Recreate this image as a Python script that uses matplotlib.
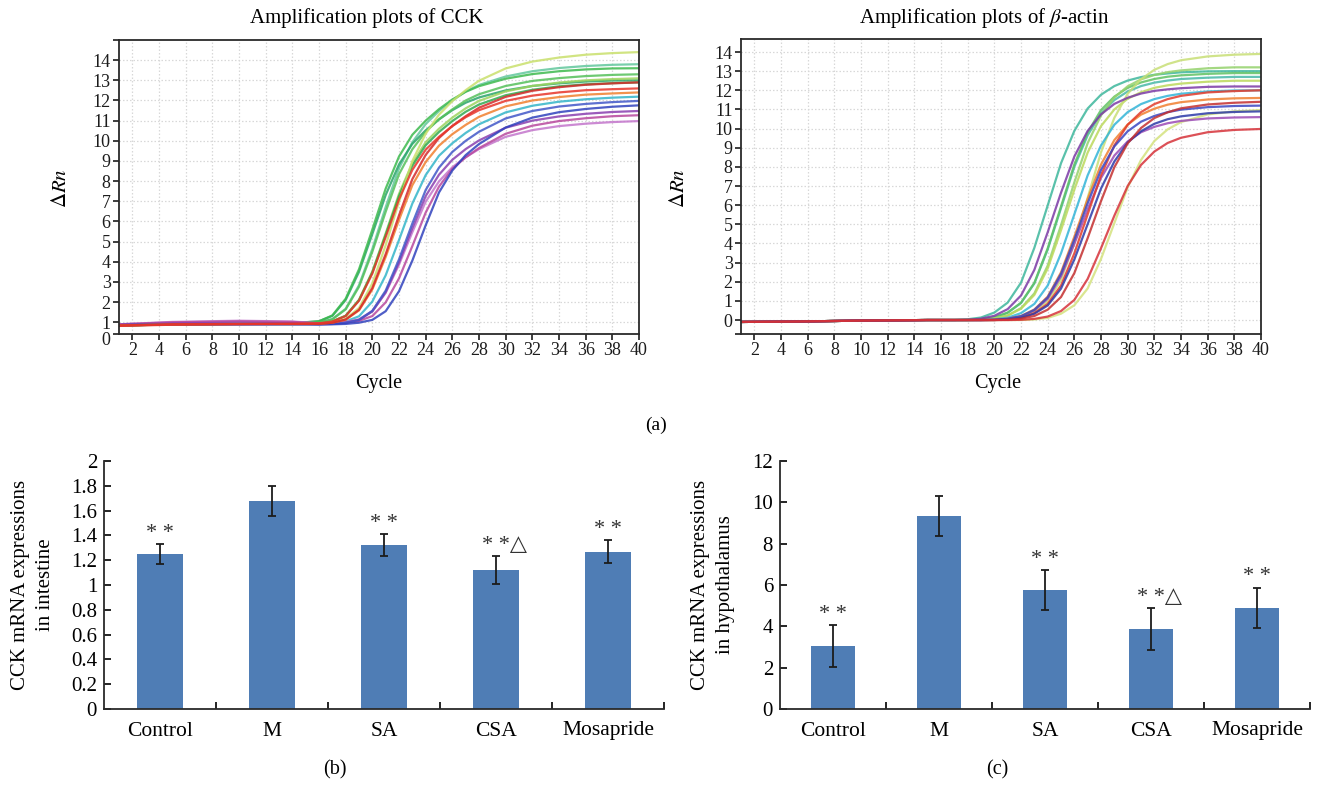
import matplotlib
matplotlib.use("Agg")
import matplotlib.pyplot as plt

plt.rcParams.update({
    "font.family": ["Liberation Serif", "DejaVu Sans"],
    "mathtext.fontset": "stix",
    "axes.linewidth": 1.3,
})

W, H = 1319, 786

# ---- amplification curves (delta Rn per cycle) ----
CCK_CYCLES = [1, 5, 10, 14, 16, 17, 18, 19, 20, 21, 22, 23, 24, 25, 26, 27, 28, 30, 32, 34, 36, 38, 40]
cck_01 = [0.86, 0.90, 0.92, 0.93, 0.93, 0.99, 1.17, 1.71, 2.93, 4.82, 6.98, 9.00, 10.35, 11.30, 11.97, 12.51, 12.98, 13.59, 13.93, 14.13, 14.27, 14.35, 14.40]
cck_02 = [0.84, 0.90, 0.93, 0.95, 1.05, 1.34, 2.17, 3.63, 5.60, 7.63, 9.22, 10.30, 11.00, 11.57, 12.05, 12.43, 12.71, 13.08, 13.31, 13.45, 13.54, 13.59, 13.60]
cck_03 = [0.85, 0.91, 0.93, 0.95, 0.99, 1.15, 1.64, 2.76, 4.50, 6.48, 8.34, 9.58, 10.45, 11.07, 11.56, 12.00, 12.31, 12.72, 12.97, 13.11, 13.21, 13.27, 13.30]
cck_04 = [0.87, 0.90, 0.94, 0.96, 0.99, 1.16, 1.67, 2.84, 4.64, 6.71, 8.64, 9.93, 10.83, 11.48, 11.99, 12.45, 12.77, 13.19, 13.45, 13.61, 13.71, 13.77, 13.80]
cck_05 = [0.84, 0.89, 0.92, 0.94, 0.95, 1.04, 1.32, 2.10, 3.48, 5.34, 7.26, 8.76, 9.78, 10.44, 10.98, 11.44, 11.80, 12.26, 12.53, 12.70, 12.80, 12.86, 12.90]
cck_06 = [0.82, 0.88, 0.91, 0.93, 0.95, 1.04, 1.31, 2.07, 3.42, 5.23, 7.10, 8.56, 9.56, 10.20, 10.73, 11.17, 11.52, 11.98, 12.24, 12.40, 12.51, 12.56, 12.60]
cck_07 = [0.85, 0.90, 0.92, 0.91, 0.92, 0.98, 1.13, 1.59, 2.63, 4.24, 6.08, 7.80, 8.95, 9.76, 10.33, 10.79, 11.19, 11.71, 12.00, 12.17, 12.29, 12.35, 12.40]
cck_08 = [0.84, 0.90, 0.91, 0.92, 0.92, 0.98, 1.14, 1.62, 2.70, 4.38, 6.30, 8.10, 9.30, 10.14, 10.74, 11.22, 11.64, 12.18, 12.48, 12.66, 12.78, 12.85, 12.90]
cck_09 = [0.85, 0.90, 0.91, 0.91, 0.91, 0.95, 1.04, 1.30, 2.03, 3.33, 5.08, 6.89, 8.30, 9.26, 9.88, 10.39, 10.82, 11.41, 11.74, 11.94, 12.06, 12.14, 12.19]
cck_10 = [0.86, 0.90, 0.90, 0.90, 0.90, 0.92, 0.98, 1.12, 1.57, 2.57, 4.12, 5.90, 7.56, 8.67, 9.45, 10.00, 10.45, 11.11, 11.48, 11.70, 11.83, 11.92, 11.98]
cck_11 = [0.88, 0.95, 0.98, 0.95, 0.90, 0.92, 0.97, 1.11, 1.54, 2.49, 3.97, 5.67, 7.26, 8.32, 9.06, 9.59, 10.02, 10.65, 11.00, 11.21, 11.34, 11.43, 11.48]
cck_12 = [0.90, 1.00, 1.05, 1.02, 0.95, 0.96, 0.99, 1.07, 1.31, 1.99, 3.18, 4.78, 6.44, 7.73, 8.61, 9.18, 9.64, 10.35, 10.75, 10.98, 11.12, 11.22, 11.27]
cck_13 = [0.86, 0.90, 0.90, 0.90, 0.90, 0.90, 0.92, 0.98, 1.12, 1.55, 2.54, 4.06, 5.81, 7.44, 8.53, 9.29, 9.84, 10.66, 11.15, 11.42, 11.58, 11.69, 11.76]
cck_14 = [0.90, 1.02, 1.08, 1.04, 0.95, 0.97, 1.02, 1.15, 1.55, 2.46, 3.86, 5.47, 6.98, 7.99, 8.69, 9.19, 9.59, 10.20, 10.53, 10.73, 10.85, 10.93, 10.98]
cck_15 = [0.85, 0.90, 0.93, 0.95, 0.95, 1.05, 1.33, 2.12, 3.52, 5.41, 7.37, 8.89, 9.93, 10.60, 11.15, 11.61, 11.98, 12.45, 12.72, 12.89, 13.00, 13.06, 13.10]
cck_16 = [0.84, 0.90, 0.93, 0.96, 1.05, 1.32, 2.11, 3.50, 5.38, 7.31, 8.83, 9.85, 10.52, 11.06, 11.52, 11.89, 12.15, 12.50, 12.72, 12.85, 12.94, 12.99, 13.00]
CCK_CURVES = [cck_04, cck_16, cck_02, cck_03, cck_15, cck_05, cck_01, cck_09, cck_14,
              cck_12, cck_11, cck_10, cck_13, cck_07, cck_08, cck_06]
CCK_COLORS = ["#62c79c", "#2aa56a", "#3dba4e", "#55c05b", "#9dd45e", "#30a950", "#c9e06c", "#34b5c9", "#c376cc",
              "#b8489e", "#8a3fb0", "#4257c8", "#3042bd", "#f0802f", "#d42a2a", "#e8352a"]

ACT_CYCLES = [1, 5, 10, 15, 17, 18, 19, 20, 21, 22, 23, 24, 25, 26, 27, 28, 29, 30, 31, 32, 33, 34, 36, 38, 40]
act_01 = [-0.10, -0.08, -0.03, 0.00, 0.00, 0.04, 0.13, 0.39, 0.91, 1.95, 3.77, 5.98, 8.19, 9.88, 11.05, 11.77, 12.22, 12.51, 12.69, 12.81, 12.88, 12.94, 12.99, 13.00, 13.00]
act_02 = [-0.10, -0.08, -0.03, 0.00, 0.00, 0.01, 0.07, 0.22, 0.57, 1.28, 2.62, 4.58, 6.65, 8.54, 9.88, 10.74, 11.29, 11.61, 11.83, 11.97, 12.05, 12.11, 12.18, 12.20, 12.20]
act_03 = [-0.10, -0.08, -0.03, 0.00, 0.00, 0.00, 0.04, 0.13, 0.39, 0.90, 1.94, 3.74, 5.93, 8.13, 9.80, 10.97, 11.67, 12.13, 12.41, 12.59, 12.71, 12.78, 12.86, 12.90, 12.90]
act_04 = [-0.10, -0.08, -0.03, 0.00, 0.00, 0.00, 0.01, 0.08, 0.23, 0.59, 1.31, 2.69, 4.69, 6.81, 8.75, 10.13, 11.00, 11.56, 11.90, 12.13, 12.26, 12.35, 12.45, 12.50, 12.50]
act_05 = [-0.10, -0.08, -0.03, 0.00, 0.00, 0.00, 0.00, 0.04, 0.12, 0.36, 0.84, 1.80, 3.48, 5.52, 7.56, 9.12, 10.20, 10.86, 11.28, 11.54, 11.71, 11.82, 11.94, 11.99, 12.00]
act_06 = [-0.10, -0.08, -0.03, 0.00, 0.00, 0.00, 0.01, 0.08, 0.24, 0.62, 1.39, 2.84, 4.95, 7.19, 9.24, 10.69, 11.62, 12.21, 12.57, 12.80, 12.95, 13.04, 13.15, 13.20, 13.20]
act_07 = [-0.10, -0.08, -0.03, 0.00, 0.00, 0.00, 0.04, 0.13, 0.38, 0.89, 1.91, 3.68, 5.84, 8.00, 9.65, 10.80, 11.49, 11.94, 12.22, 12.40, 12.51, 12.59, 12.66, 12.70, 12.70]
act_08 = [-0.10, -0.08, -0.03, 0.00, 0.00, 0.00, 0.00, 0.01, 0.07, 0.20, 0.53, 1.18, 2.41, 4.20, 6.10, 7.84, 9.07, 9.86, 10.36, 10.66, 10.86, 10.99, 11.12, 11.18, 11.20]
act_09 = [-0.10, -0.08, -0.03, 0.00, 0.00, 0.00, 0.00, 0.00, 0.03, 0.11, 0.33, 0.76, 1.64, 3.16, 5.01, 6.87, 8.28, 9.27, 9.86, 10.25, 10.49, 10.64, 10.80, 10.87, 10.90]
act_10 = [-0.10, -0.08, -0.03, 0.00, 0.00, 0.00, 0.00, 0.00, 0.04, 0.12, 0.36, 0.84, 1.80, 3.48, 5.52, 7.56, 9.12, 10.20, 10.86, 11.28, 11.54, 11.71, 11.89, 11.96, 12.00]
act_11 = [-0.10, -0.08, -0.03, 0.00, 0.00, 0.00, 0.00, 0.01, 0.07, 0.21, 0.55, 1.22, 2.49, 4.35, 6.32, 8.12, 9.40, 10.21, 10.73, 11.04, 11.25, 11.38, 11.52, 11.58, 11.60]
act_12 = [-0.10, -0.08, -0.03, 0.00, 0.00, 0.00, 0.00, 0.00, 0.01, 0.07, 0.21, 0.54, 1.20, 2.45, 4.28, 6.21, 7.98, 9.23, 10.03, 10.55, 10.85, 11.06, 11.26, 11.35, 11.40]
act_13 = [-0.10, -0.08, -0.03, 0.00, 0.00, 0.00, 0.00, 0.00, 0.00, 0.01, 0.06, 0.18, 0.47, 1.05, 2.15, 3.75, 5.45, 7.00, 8.10, 8.80, 9.25, 9.52, 9.81, 9.93, 9.98]
act_14 = [-0.10, -0.08, -0.03, 0.00, 0.00, 0.00, 0.00, 0.00, 0.00, 0.00, 0.03, 0.11, 0.33, 0.77, 1.65, 3.19, 5.06, 6.93, 8.36, 9.35, 9.96, 10.34, 10.74, 10.90, 10.97]
act_15 = [-0.10, -0.08, -0.03, 0.00, 0.00, 0.00, 0.00, 0.00, 0.04, 0.14, 0.42, 0.97, 2.09, 4.03, 6.39, 8.76, 10.56, 11.82, 12.58, 13.07, 13.37, 13.57, 13.77, 13.86, 13.90]
act_16 = [-0.10, -0.08, -0.03, 0.00, 0.00, 0.00, 0.00, 0.01, 0.06, 0.19, 0.50, 1.11, 2.28, 3.98, 5.78, 7.42, 8.59, 9.33, 9.81, 10.09, 10.28, 10.40, 10.53, 10.58, 10.60]
ACT_CURVES = [act_01, act_07, act_03, act_06, act_04, act_15, act_14, act_05, act_02,
              act_16, act_11, act_10, act_08, act_09, act_12, act_13]
ACT_COLORS = ["#3db79c", "#48b9a8", "#5fc163", "#94d26c", "#bcd95c", "#c8df76", "#d4e27e", "#33b4d8", "#7b3aa6",
              "#9b4ab5", "#f07f2f", "#e23b2b", "#3b47c2", "#2d3aa8", "#c42f2f", "#d6323a"]

# ---- relative CCK mRNA expression (mean +/- sd) ----
GROUPS = ["Control", "M", "SA", "CSA", "Mosapride"]
intestine_mean = [1.25, 1.68, 1.32, 1.12, 1.27]
intestine_err = [0.08, 0.12, 0.09, 0.11, 0.09]
hypothal_mean = [3.05, 9.34, 5.76, 3.87, 4.89]
hypothal_err = [1.00, 0.98, 0.97, 1.02, 0.98]
MARKS = ["* *", "", "* *", "* *\u25b3", "* *"]
INT_TICKS = [0, 0.2, 0.4, 0.6, 0.8, 1, 1.2, 1.4, 1.6, 1.8, 2]
INT_TICKLABELS = ["0", "0.2", "0.4", "0.6", "0.8", "1", "1.2", "1.4", "1.6", "1.8", "2"]
HYP_TICKS = [0, 2, 4, 6, 8, 10, 12]

BAR = "#4f7db5"
INK = "#1c1c1c"


def rect(x0, y0, x1, y1):
    return [x0 / W, 1 - y1 / H, (x1 - x0) / W, (y1 - y0) / H]


def amp_panel(ax, cycles, curves, colors, ylim, bottom_label):
    for ys, c in zip(curves, colors):
        ax.plot(cycles, ys, color=c, lw=1.6, alpha=0.85, solid_capstyle="round")
    ax.set_xlim(1, 40)
    ax.set_ylim(*ylim)
    ax.set_xticks(range(2, 41, 2))
    ax.set_yticks(range(1 if bottom_label else 0, 15))
    # extra ticks at the frame edges, as the instrument software draws them
    ax.set_yticks([ylim[0], ylim[1]] if bottom_label else [ylim[0]], minor=True)
    ax.set_yticklabels([], minor=True)
    if bottom_label:
        # the CCK plot labels its bottom edge "0", just under the "1" row
        ax.annotate("0", (0, ylim[0]), xycoords=ax.get_yaxis_transform(),
                    xytext=(-6, -5), textcoords="offset points",
                    ha="right", va="center", fontsize=13, color=INK)
    ax.grid(True, which="major", color="#d8d8d8", ls=(0, (1.2, 1.6)), lw=0.9)
    ax.tick_params(which="both", direction="out", length=4, width=1.2, colors=INK,
                   labelsize=13, pad=2)
    for s in ax.spines.values():
        s.set_color("#2a2a2a")
        s.set_linewidth(1.3)


def bar_panel(ax, means, errs, ticks, ticklabels):
    x = range(len(GROUPS))
    ax.bar(x, means, width=0.41, color=BAR, zorder=2)
    ax.errorbar(x, means, yerr=errs, fmt="none", ecolor=INK, elinewidth=1.3,
                capsize=3, capthick=1.3, zorder=3)
    for i, (m, e, mk) in enumerate(zip(means, errs, MARKS)):
        if mk:
            ax.annotate(mk, (i, m + e), xytext=(6 if len(mk) > 3 else 0, 1),
                        textcoords="offset points", ha="center", va="bottom",
                        fontsize=16, color="#333333")
    ax.set_xlim(-0.5, len(GROUPS) - 0.5)
    ax.set_ylim(ticks[0], ticks[-1])
    ax.set_yticks(ticks)
    ax.set_yticklabels(ticklabels)
    ax.set_xticks([i + 0.5 for i in x])
    ax.set_xticklabels([])
    ax.set_xticks(list(x), minor=True)
    ax.set_xticklabels(GROUPS, minor=True)
    ax.tick_params(axis="x", which="minor", length=0, pad=9, labelsize=15.5)
    ax.tick_params(axis="x", which="major", direction="in", length=5, width=1.2)
    ax.tick_params(axis="y", direction="in", length=5, width=1.2, labelsize=15, pad=5)
    for side in ("top", "right"):
        ax.spines[side].set_visible(False)
    for side in ("left", "bottom"):
        ax.spines[side].set_color("#2a2a2a")
        ax.spines[side].set_linewidth(1.3)


fig = plt.figure(figsize=(W / 100, H / 100), dpi=100)

ax1 = fig.add_axes(rect(119, 40, 639, 334))
amp_panel(ax1, CCK_CYCLES, CCK_CURVES, CCK_COLORS, (0.42, 15.0), True)
ax2 = fig.add_axes(rect(741, 39, 1261, 334))
amp_panel(ax2, ACT_CYCLES, ACT_CURVES, ACT_COLORS, (-0.73, 14.68), False)

fig.text(367 / W, 1 - 18 / H, "Amplification plots of CCK", ha="center", va="center", fontsize=15)
fig.text(984 / W, 1 - 18 / H, r"Amplification plots of $\beta$-actin", ha="center", va="center", fontsize=15)
for xc in (62, 680):
    fig.text(xc / W, 1 - 188 / H, r"$\Delta Rn$", rotation=90, ha="center", va="center", fontsize=15)
for xc in (379, 998):
    fig.text(xc / W, 1 - 384 / H, "Cycle", ha="center", va="center", fontsize=14.5)
fig.text(656 / W, 1 - 425 / H, "(a)", ha="center", va="center", fontsize=14)

ax3 = fig.add_axes(rect(104, 461, 664, 709))
bar_panel(ax3, intestine_mean, intestine_err, INT_TICKS, INT_TICKLABELS)
ax4 = fig.add_axes(rect(780, 461, 1310, 709))
bar_panel(ax4, hypothal_mean, hypothal_err, HYP_TICKS, [str(t) for t in HYP_TICKS])

fig.text(33 / W, 1 - 585 / H, "CCK mRNA expressions\nin intestine", rotation=90,
         ha="center", va="center", fontsize=15, linespacing=1.45, multialignment="center")
fig.text(713 / W, 1 - 585 / H, "CCK mRNA expressions\nin hypothalamus", rotation=90,
         ha="center", va="center", fontsize=15, linespacing=1.45, multialignment="center")
fig.text(335 / W, 1 - 770 / H, "(b)", ha="center", va="center", fontsize=14.5)
fig.text(997 / W, 1 - 770 / H, "(c)", ha="center", va="center", fontsize=14.5)

fig.savefig("out.png", dpi=100)
